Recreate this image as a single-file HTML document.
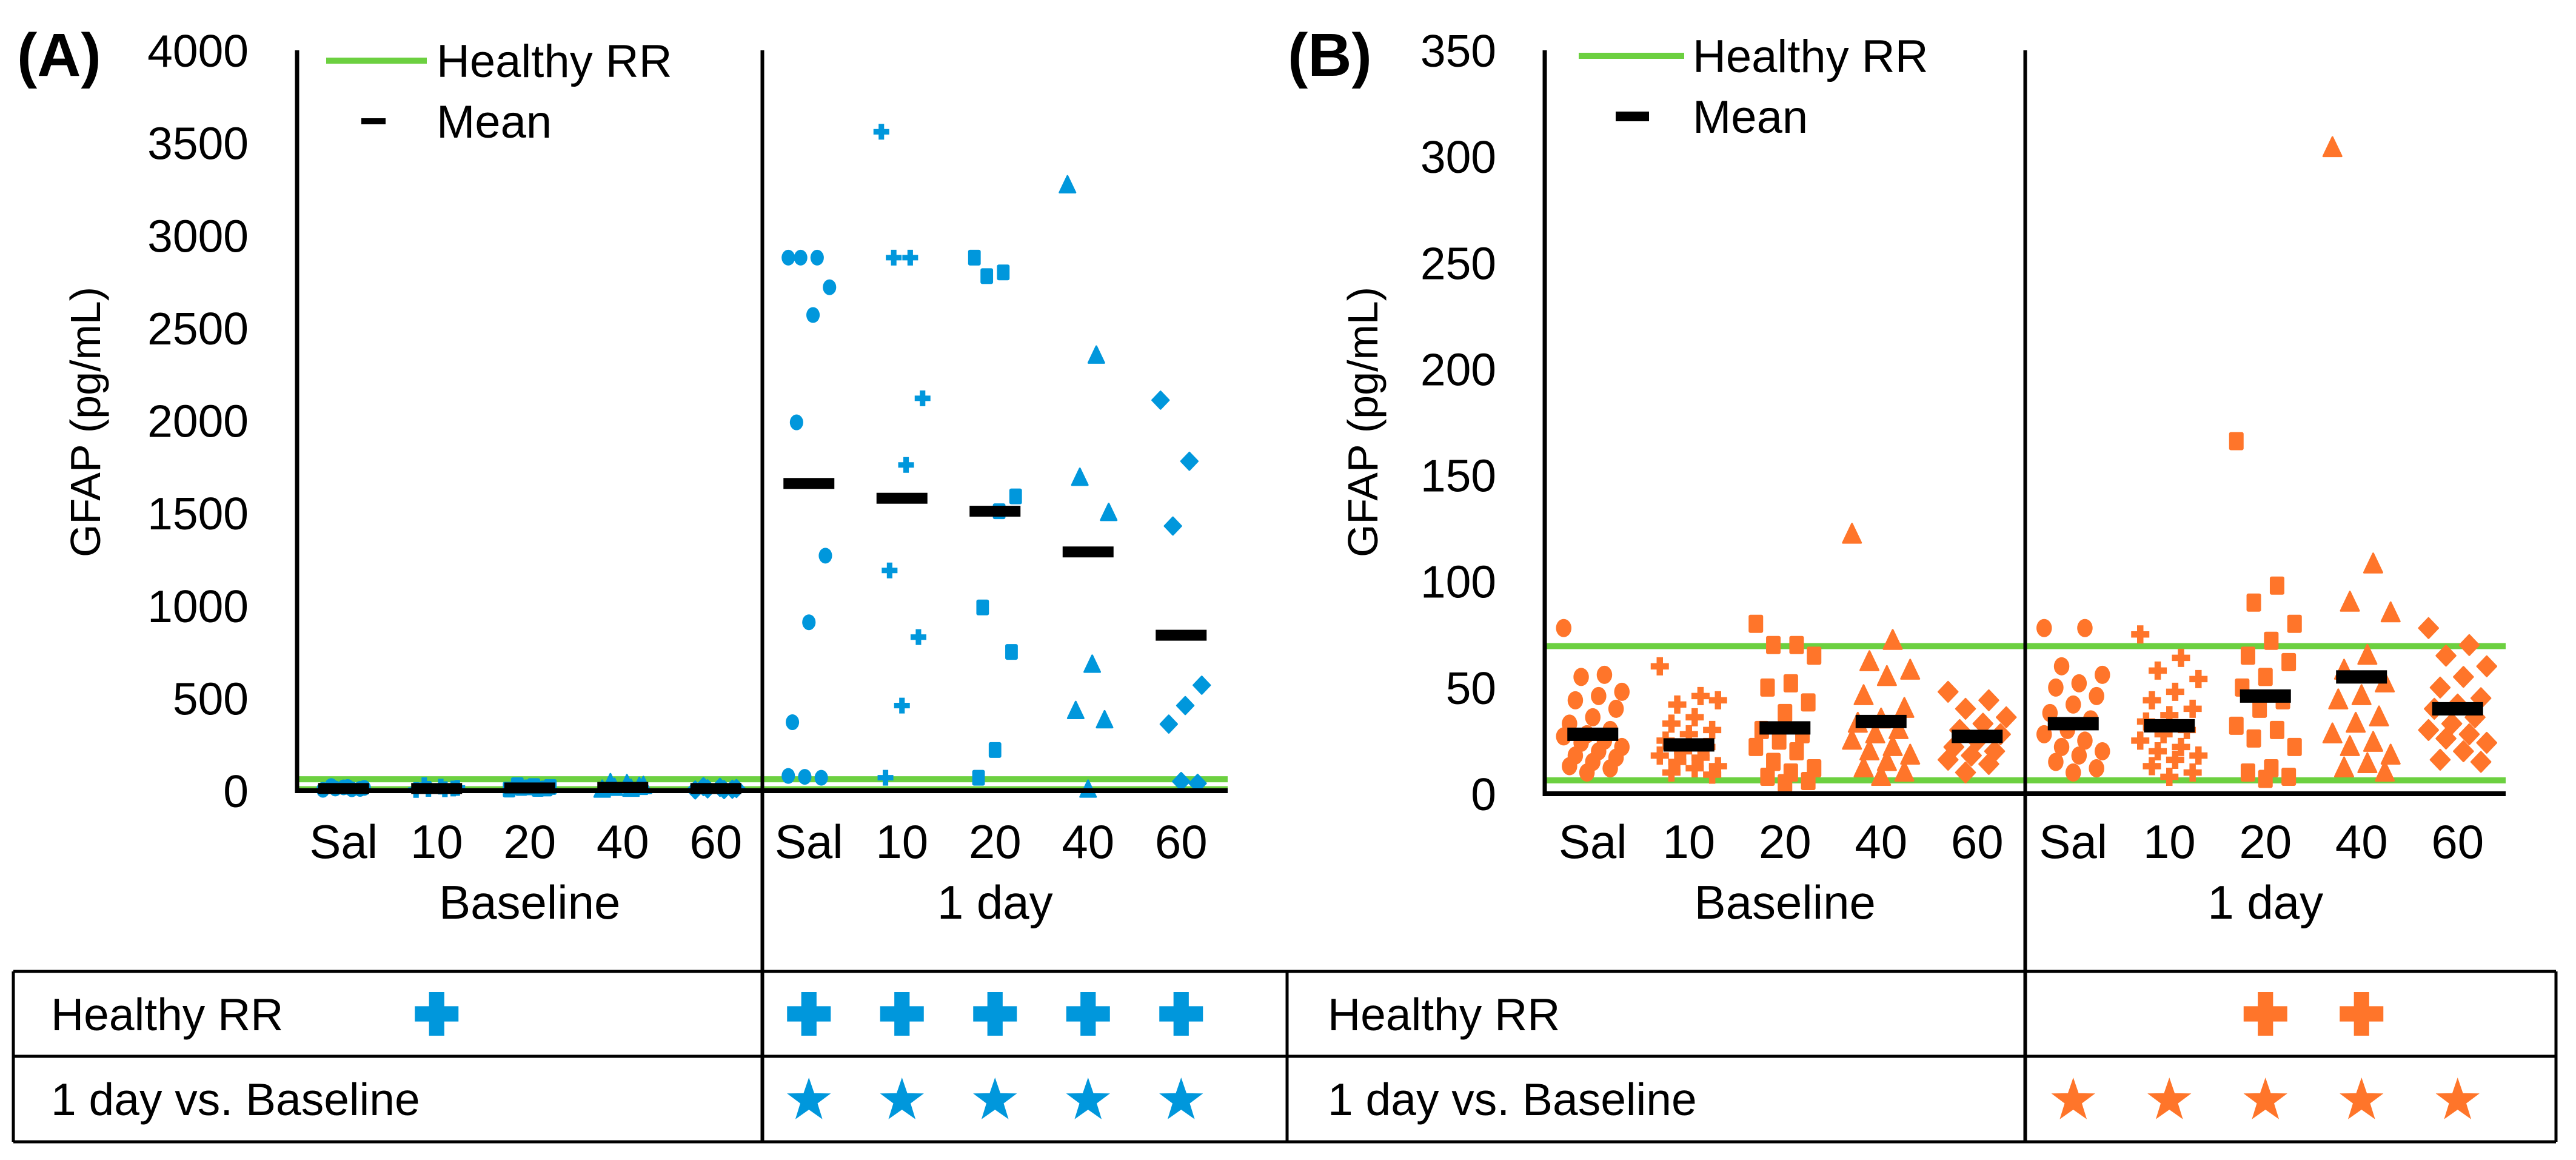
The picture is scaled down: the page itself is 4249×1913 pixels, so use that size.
<!DOCTYPE html>
<html><head><meta charset="utf-8"><style>
html,body{margin:0;padding:0;background:#fff;}
svg{display:block;font-family:"Liberation Sans",Arial,sans-serif;}
</style></head><body>
<svg id="fig" width="4249" height="1913" viewBox="0 0 4249 1913" xmlns="http://www.w3.org/2000/svg">
</svg>
<script>
// ---------- data ----------
const categories = ["Sal","10","20","40","60"];
const groups = ["Baseline","1 day"];
const ticksA = [0,500,1000,1500,2000,2500,3000,3500,4000];
const ticksB = [0,50,100,150,200,250,300,350];
const rrA = [8, 62];
const rrB = [6.3, 69.5];
// Panel A values: baseline groups then 1-day groups
const aBaseSal = [5,8,12,15,20,25,10,18];
const aBase10 = [4,8,10,15,22,30,12];
const aBase20 = [6,10,15,20,25,30,12,18];
const aBase40 = [5,10,15,25,35,40,20];
const aBase60 = [4,6,10,12,18,22,8];
const aDaySal = [2880,2880,2880,2720,2570,1990,1270,910,370,70,75,80];
const aDay10 = [3560,2880,2880,2120,1760,1190,830,460,70];
const aDay20 = [2880,2800,2780,1590,1510,990,750,220,70];
const aDay40 = [3270,2350,1690,1500,680,430,380,5];
const aDay60 = [2110,1780,1430,570,460,360,40,50];
const aMeans = [12,12,15,18,12,1660,1580,1510,1290,840];
// Panel B values
const bBaseSal = [78,56,55,48,46,44,40,36,33,30,28,27,25,24,22,20,18,17,15,13,12,10];
const bBase10 = [60,46,42,44,36,33,30,28,25,22,20,18,17,15,13,12,10,9];
const bBase20 = [80,70,70,65,52,50,43,38,30,28,25,22,20,15,12,10,8,6,5];
const bBase40 = [122,72,62,58,55,46,40,35,33,30,28,25,22,20,18,15,12,10,8];
const bBase60 = [48,44,40,36,33,30,28,25,22,20,18,16,14,10];
const bDaySal = [78,78,60,56,52,50,46,42,38,35,30,28,25,22,20,18,15,12,10];
const bDay10 = [75,64,58,54,48,44,40,37,34,30,28,25,22,20,18,16,13,10,8];
const bDay20 = [166,98,90,80,72,65,62,55,50,44,40,32,30,26,22,12,10,8,7];
const bDay40 = [304,108,90,85,65,58,52,46,44,36,33,28,24,22,18,14,12,10];
const bDay60 = [78,70,65,60,55,50,45,42,40,36,33,30,28,26,24,20,16,15];
const bMeans = [28,23,31,34,27,33,32,46,55,40];
// significance table: column indices (0-9)
const aRRMarks = [1,5,6,7,8,9];
const aStarMarks = [5,6,7,8,9];
const bRRMarks = [7,8];
const bStarMarks = [5,6,7,8,9];

const shapes = ["circle","plus","square","triangle","diamond"];
const NS = "http://www.w3.org/2000/svg";
const svg = document.getElementById("fig");
function el(tag, attrs, parent){ const e=document.createElementNS(NS,tag); for(const k in attrs) e.setAttribute(k,attrs[k]); (parent||svg).appendChild(e); return e; }
function txt(x,y,s,size,anchor,weight,parent){ const t=el("text",{x:x,y:y,"font-size":size,"text-anchor":anchor||"start","font-weight":weight||"normal",fill:"#000"},parent); t.textContent=s; return t; }

function marker(shape, cx, cy, s, color, g){
  let m;
  if(shape==="circle") m=el("ellipse",{cx:cx,cy:cy,rx:s*0.85,ry:s,fill:color},g);
  else if(shape==="square") m=el("rect",{x:cx-s*0.8,y:cy-s,width:s*1.6,height:s*2,rx:3,fill:color},g);
  else if(shape==="diamond") m=el("polygon",{points:`${cx},${cy-s*1.1} ${cx+s*1.05},${cy} ${cx},${cy+s*1.1} ${cx-s*1.05},${cy}`,fill:color,"stroke":color,"stroke-linejoin":"round","stroke-width":3},g);
  else if(shape==="triangle") m=el("polygon",{points:`${cx},${cy-s*1.2} ${cx+s*1.0},${cy+s*0.9} ${cx-s*1.0},${cy+s*0.9}`,fill:color,"stroke":color,"stroke-linejoin":"round","stroke-width":3},g);
  else { const a=s*0.35; m=el("path",{d:`M${cx-a},${cy-s} h${2*a} v${s-a} h${s-a} v${2*a} h${-(s-a)} v${s-a} h${-2*a} v${-(s-a)} h${-(s-a)} v${-2*a} h${s-a} z`,fill:color},g); }
  return m;
}

function panel(cfg){
  const g = el("g",{});
  
  
  const {x0,x1,y0,yTop,vmax,color} = cfg;
  const xs = i => x0 + (i+0.5)*(x1-x0)/10;
  const ys = v => y0 - v/vmax*(y0-yTop);
  const pl = txt(cfg.labelX, 125, cfg.label, 100, "start", "bold", g);
  
  
  const tg = el("g",{},g);
  
  
  cfg.ticks.forEach(t=>{ const tt=txt(x0-80, ys(t)+27, String(t), 75, "end", "normal", tg);
    
     });
  const yt = txt(0,0,"GFAP (pg/mL)",70,"middle","normal",g);
  yt.setAttribute("transform",`translate(${cfg.titleX},696) rotate(-90)`);
  
  
  cfg.rr.forEach(v=>{ const l=el("line",{x1:x0,x2:x1,y1:ys(v),y2:ys(v),stroke:"#6CD040","stroke-width":10},g);
    
     });
  cfg.series.forEach((arr,ci)=>{
    const sg = el("g",{},g);
    
    
    arr.forEach((v,i)=>{
      const off = (((i*7)%11)-5)/5*cfg.spread;
      const m = marker(shapes[ci%5], xs(ci)+off, ys(v), cfg.ms, color, sg);
      
      
    });
  });
  cfg.means.forEach((v,ci)=>{
    const r = el("rect",{x:xs(ci)-42,y:ys(v)-cfg.mh/2,width:84,height:cfg.mh,fill:"#000"},g);
    
    
  });
  const ya = el("line",{x1:x0,x2:x0,y1:yTop,y2:y0+4,stroke:"#000","stroke-width":7},g);
  
  
  const xa = el("line",{x1:x0-3,x2:x1,y1:y0,y2:y0,stroke:"#000","stroke-width":8},g);
  
  
  const dv = el("line",{x1:(x0+x1)/2,x2:(x0+x1)/2,y1:yTop,y2:1885,stroke:"#000","stroke-width":6},g);
  
  
  for(let ci=0; ci<10; ci++){ const t=txt(xs(ci),1415,categories[ci%5],78,"middle","normal",g);
    
     }
  groups.forEach((gn,gi)=>{ const t=txt(x0+(gi+0.5)*(x1-x0)/2,1515,gn,78,"middle","normal",g);
    
     });
  const lg = el("g",{},g);
  
  
  el("line",{x1:cfg.lgX1,x2:cfg.lgX2,y1:cfg.lgY,y2:cfg.lgY,stroke:"#6CD040","stroke-width":10},lg);
  txt(cfg.lgT, cfg.lgY+27, "Healthy RR", 76, "start","normal",lg);
  el("rect",{x:cfg.mX-20,y:cfg.lgY+100-cfg.mlh/2,width:cfg.mW,height:cfg.mlh,fill:"#000"},lg);
  txt(cfg.lgT, cfg.lgY+127, "Mean", 76, "start","normal",lg);
  cfg.rrMarks.forEach(ci=>{ const m=marker("plus", xs(ci), 1672, 36, color, g);
    
     });
  cfg.starMarks.forEach(ci=>{ const cx=xs(ci), cy=1815, R=38, r=15; let p="";
    for(let k=0;k<10;k++){ const a=-Math.PI/2+k*Math.PI/5, rr=k%2?r:R; p+=`${cx+rr*Math.cos(a)},${cy+rr*Math.sin(a)} `; }
    const s=el("polygon",{points:p,fill:color},g);
    
     });
}

const tb = el("g",{});


[[22,1602,4216,1602],[22,1742,4216,1742],[22,1883,4216,1883],[22,1602,22,1883],[4216,1602,4216,1883],[2123,1602,2123,1883]].forEach(l=>{
  el("line",{x1:l[0],y1:l[1],x2:l[2],y2:l[3],stroke:"#000","stroke-width":5},tb);
});
[[84,"A"],[2190,"B"]].forEach(([x,p])=>{
  const t1=txt(x,1699,"Healthy RR",75,"start","normal",tb);
  
  
  const t2=txt(x,1839,"1 day vs. Baseline",75,"start","normal",tb);
  
  
});

panel({name:"panel-a",label:"(A)",labelX:28,x0:490,x1:2025,y0:1304,yTop:83,vmax:4000,color:"#0097DC",
  ticks:ticksA,titleX:165,rr:rrA,spread:34,ms:13,mh:18,
  series:[aBaseSal,aBase10,aBase20,aBase40,aBase60,aDaySal,aDay10,aDay20,aDay40,aDay60],means:aMeans,
  lgX1:538,lgX2:704,lgY:100,lgT:720,mX:616,mW:40,mlh:10,rrMarks:aRRMarks,starMarks:aStarMarks});
panel({name:"panel-b",label:"(B)",labelX:2124,x0:2548,x1:4133,y0:1309,yTop:83,vmax:350,color:"#FF752A",
  ticks:ticksB,titleX:2272,rr:rrB,spread:48,ms:15,mh:22,
  series:[bBaseSal,bBase10,bBase20,bBase40,bBase60,bDaySal,bDay10,bDay20,bDay40,bDay60],means:bMeans,
  lgX1:2604,lgX2:2778,lgY:92,lgT:2792,mX:2685,mW:55,mlh:16,rrMarks:bRRMarks,starMarks:bStarMarks});
</script>
</body></html>
